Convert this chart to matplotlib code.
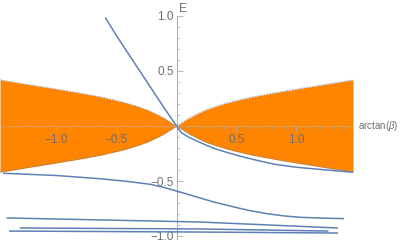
import matplotlib
matplotlib.use("Agg")
import matplotlib.pyplot as plt
import numpy as np

plt.rcParams["font.family"] = ["Liberation Sans", "DejaVu Sans"]
plt.rcParams["mathtext.fontset"] = "custom"
plt.rcParams["mathtext.it"] = "Liberation Sans:italic"
plt.rcParams["mathtext.rm"] = "Liberation Sans"

# half width of the orange band, |E| <= f(arctan beta), symmetric in x
band_x = [0, 0.05, 0.1, 0.17, 0.25, 0.33, 0.42, 0.5, 0.63, 0.83, 1.05, 1.25, 1.471]
band_f = [0, 0.035, 0.07, 0.11, 0.15, 0.18, 0.21, 0.232, 0.265, 0.305, 0.345, 0.38, 0.42]

# blue curves (arctan(beta), E)
c1_x = [-0.59, -0.50, -0.40, -0.30, -0.20, -0.10, 0, 0.04, 0.1, 0.167, 0.25,
        0.33, 0.42, 0.55, 0.7, 0.83, 1.0, 1.25, 1.471]
c1_e = [0.98, 0.82, 0.655, 0.49, 0.325, 0.16, 0, -0.06, -0.1, -0.135, -0.175,
        -0.21, -0.24, -0.28, -0.32, -0.35, -0.375, -0.40, -0.42]

c2_x = [-1.44, -1.0, -0.63, -0.4, -0.22, -0.1, 0.03, 0.1, 0.2, 0.3, 0.475,
        0.6, 0.76, 0.9, 1.03, 1.2, 1.39]
c2_e = [-0.43, -0.45, -0.48, -0.505, -0.53, -0.56, -0.6, -0.623, -0.655, -0.688,
        -0.735, -0.767, -0.798, -0.818, -0.83, -0.837, -0.842]

c3_x = [-1.41, 0.2, 1.34]
c3_e = [-0.836, -0.873, -0.927]

c4_x = [-1.30, 0.2, 1.26]
c4_e = [-0.927, -0.936, -0.955]

c5_x = [-1.39, 0.2, 1.34]
c5_e = [-0.955, -0.964, -0.973]

xticks = [-1.0, -0.5, 0.5, 1.0]
yticks = [-1.0, -0.5, 0.5, 1.0]

orange = "#ff8400"
blue = "#5e81b5"
gray = "#b0b0b0"
label_gray = "#6e6e6e"

fig = plt.figure(figsize=(4.02, 2.42), dpi=100)
ax = fig.add_axes([0, 0.5 / 242, 353 / 402, 231 / 242])

bx = np.array(band_x)
bf = np.array(band_f)
full_x = np.concatenate([-bx[::-1], bx[1:]])
full_f = np.concatenate([bf[::-1], bf[1:]])
ax.fill_between(full_x, -full_f, full_f, color=orange, lw=0, zorder=1)
ax.plot(full_x, full_f, color=blue, lw=0.6, ls=(0, (2, 1.5)), alpha=0.7, zorder=2)
ax.plot(full_x, -full_f, color=blue, lw=0.6, ls=(0, (2, 1.5)), alpha=0.7, zorder=2)

for xs, es in [(c1_x, c1_e), (c2_x, c2_e), (c3_x, c3_e), (c4_x, c4_e), (c5_x, c5_e)]:
    ax.plot(xs, es, color=blue, lw=1.1, zorder=4)

ax.set_xlim(-1.4711, 1.4711)
ax.set_ylim(-1.05, 1.05)

for side in ["top", "right"]:
    ax.spines[side].set_visible(False)
ax.spines["left"].set_position(("data", 0))
ax.spines["bottom"].set_position(("data", 0))
for side in ["left", "bottom"]:
    ax.spines[side].set_color(gray)
    ax.spines[side].set_linewidth(0.8)
    ax.spines[side].set_zorder(3)
ax.spines["bottom"].set_alpha(0.5)
ax.spines["left"].set_bounds(-1.03, 1.0)

ax.set_xticks(xticks)
ax.set_xticklabels(["\u22121.0", "\u22120.5", "0.5", "1.0"])
ax.set_yticks(yticks)
ax.set_yticklabels(["\u22121.0", "\u22120.5", "0.5", "1.0"])
ax.set_xticks(np.arange(-1.4, 1.41, 0.1), minor=True)
ax.set_yticks(np.arange(-1.0, 1.01, 0.1), minor=True)
ax.tick_params(axis="both", which="major", direction="in", length=4, width=0.6,
               color=gray, labelcolor=label_gray, labelsize=8.5, pad=2)
ax.tick_params(axis="both", which="minor", direction="in", length=2, width=0.5,
               color=gray)
ax.tick_params(axis="x", which="both", direction="out")

ax.text(0.02, 1.005, "E", color=label_gray, fontsize=8.5, ha="left", va="bottom",
        transform=ax.transData, clip_on=False)
ax.text(1.51, 0, "arctan($\\beta$)", color=label_gray, fontsize=7,
        ha="left", va="center", transform=ax.transData, clip_on=False)

fig.savefig("out.png", dpi=100)
